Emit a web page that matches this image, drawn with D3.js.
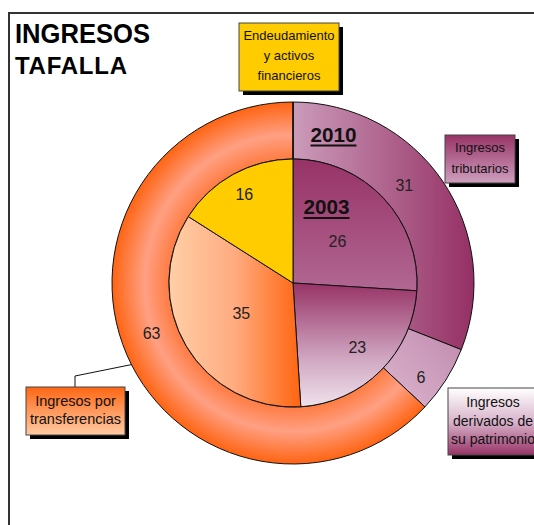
<!DOCTYPE html>
<html>
<head>
<meta charset="utf-8">
<script src="https://cdn.jsdelivr.net/npm/d3@7"></script>
<style>
  body { margin: 0; background: #fff; }
  text { font-family: "Liberation Sans", Arial, sans-serif; }
</style>
</head>
<body>
<div id="chart"></div>
<script>
// data
const categories = ["Ingresos tributarios", "Ingresos derivados de su patrimonio", "Ingresos por transferencias", "Endeudamiento y activos financieros"];
const values2003 = [26, 23, 35, 16];
const values2010 = [31, 6, 63, 0];
const years = ["2003", "2010"];
const boxLines = [["Ingresos", "tributarios"], ["Ingresos", "derivados de", "su patrimonio"], ["Ingresos por", "transferencias"], ["Endeudamiento", "y activos", "financieros"]];

const W = 534, H = 525;
const cx = 293, cy = 283, rIn = 124, rOut = 181;

const svg = d3.select("#chart").append("svg")
  .attr("width", W)
  .attr("height", H);

svg.append("rect").attr("width", W).attr("height", H).attr("fill", "#fff");

// gradients
const defs = svg.append("defs");
function linGrad(id, x1, y1, x2, y2, stops) {
  const g = defs.append("linearGradient").attr("id", id)
    .attr("x1", x1).attr("y1", y1).attr("x2", x2).attr("y2", y2);
  stops.forEach(s => g.append("stop").attr("offset", s[0]).attr("stop-color", s[1]));
}
linGrad("gTribIn", 0, 0, 0, 1, [[0, "#973366"], [1, "#b16792"]]);
linGrad("gTribOut", 0, 0, 1, 0, [[0, "#cb9bba"], [1, "#953064"]]);
linGrad("gPatIn", 0, 0, 0, 1, [[0, "#973366"], [0.6, "#cfa5c0"], [1, "#efe2ec"]]);
linGrad("gPatOut", 1, 0, 0, 1, [[0, "#c08aae"], [1, "#dcb6ce"]]);
linGrad("gTransIn", 0, 0, 1, 0, [[0, "#ffcfa6"], [0.5, "#ffab80"], [1, "#ff6510"]]);
linGrad("gBoxTrib", 0, 0, 0, 1, [[0, "#973366"], [1, "#cf9fbe"]]);
linGrad("gBoxPat", 0, 0, 0, 1, [[0, "#ffffff"], [0.5, "#d9b5cc"], [1, "#973366"]]);
linGrad("gBoxTrans", 0, 0, 0, 1, [[0, "#ff6614"], [1, "#ffcba3"]]);
const rg = defs.append("radialGradient").attr("id", "gTransOut")
  .attr("gradientUnits", "userSpaceOnUse").attr("cx", 0).attr("cy", 0).attr("r", rOut);
[[0.685, "#ff7c42"], [0.82, "#ffa083"], [1, "#ff6412"]].forEach(s =>
  rg.append("stop").attr("offset", s[0]).attr("stop-color", s[1]));

const fillsIn = ["url(#gTribIn)", "url(#gPatIn)", "url(#gTransIn)", "#ffcc00"];
const fillsOut = ["url(#gTribOut)", "url(#gPatOut)", "url(#gTransOut)", "#ffcc00"];

// frame
svg.append("path")
  .attr("d", `M9,${H} V13 H${W}`)
  .attr("fill", "none").attr("stroke", "#333").attr("stroke-width", 2);

// titles
svg.append("text").attr("x", 15).attr("y", 42.5)
  .attr("font-size", 27).attr("font-weight", "bold")
  .attr("textLength", 135).attr("lengthAdjust", "spacingAndGlyphs")
  .text("INGRESOS");
svg.append("text").attr("x", 15).attr("y", 74)
  .attr("font-size", 24).attr("font-weight", "bold")
  .attr("textLength", 112).attr("lengthAdjust", "spacing")
  .text("TAFALLA");

// pies
const pie = d3.pie().sort(null).startAngle(0).endAngle(2 * Math.PI);
const arcIn = d3.arc().innerRadius(0).outerRadius(rIn);
const arcOut = d3.arc().innerRadius(rIn).outerRadius(rOut);

const g = svg.append("g").attr("transform", `translate(${cx},${cy})`);

const outerArcs = pie(values2010);
const innerArcs = pie(values2003);

g.selectAll(".outer")
  .data(outerArcs)
  .enter().append("path")
  .attr("class", "outer")
  .attr("d", arcOut)
  .attr("fill", (d, i) => fillsOut[i])
  .attr("stroke", "#111")
  .attr("stroke-width", 1);

g.selectAll(".inner")
  .data(innerArcs)
  .enter().append("path")
  .attr("class", "inner")
  .attr("d", arcIn)
  .attr("fill", (d, i) => fillsIn[i])
  .attr("stroke", "#111")
  .attr("stroke-width", 1);

// value labels (radius and small angle tweak per slice, like Excel placement)
const labRIn = [61, 91, 60, 101];
const labROut = [148, 159, 150, 150];
const labTweakOut = [-7, 4, 4, 0];
function polar(r, a) { return [r * Math.sin(a), -r * Math.cos(a)]; }

g.selectAll(".labIn")
  .data(innerArcs.filter(d => d.value > 0))
  .enter().append("text")
  .attr("class", "labIn")
  .attr("transform", (d, i) => {
    const p = polar(labRIn[d.index], (d.startAngle + d.endAngle) / 2);
    return `translate(${p[0]},${p[1]})`;
  })
  .attr("text-anchor", "middle").attr("dy", "0.36em")
  .attr("font-size", 16).attr("fill", "#222")
  .text(d => d.value);

g.selectAll(".labOut")
  .data(outerArcs.filter(d => d.value > 0))
  .enter().append("text")
  .attr("class", "labOut")
  .attr("transform", d => {
    const a = (d.startAngle + d.endAngle) / 2 + labTweakOut[d.index] * Math.PI / 180;
    const p = polar(labROut[d.index], a);
    return `translate(${p[0]},${p[1]})`;
  })
  .attr("text-anchor", "middle").attr("dy", "0.36em")
  .attr("font-size", 16).attr("fill", "#222")
  .text(d => d.value);

// year labels, underlined
const yearPos = [[33.5, -69], [40.5, -141.5]];
years.forEach((y, i) => {
  g.append("text")
    .attr("x", yearPos[i][0]).attr("y", yearPos[i][1])
    .attr("text-anchor", "middle")
    .attr("font-size", 20).attr("font-weight", "bold").attr("fill", "#111")
    .attr("textLength", 46).attr("lengthAdjust", "spacingAndGlyphs")
    .text(y);
  g.append("line")
    .attr("x1", yearPos[i][0] - 23).attr("x2", yearPos[i][0] + 23)
    .attr("y1", yearPos[i][1] + 4).attr("y2", yearPos[i][1] + 4)
    .attr("stroke", "#111").attr("stroke-width", 2);
});

// leader line for transferencias
const leadAngle = 246.6 * Math.PI / 180;
const lp = polar(rOut, leadAngle - 3.4 * Math.PI / 180);
svg.append("polyline")
  .attr("points", `75,387 75,376 ${cx + lp[0]},${cy + lp[1]}`)
  .attr("fill", "none").attr("stroke", "#111").attr("stroke-width", 1);

// category boxes
const boxes = [
  { x: 445, y: 135, w: 70, h: 48, fill: "url(#gBoxTrib)", lines: boxLines[0], tx: 480, ty: 152, lh: 21, fs: 13 },
  { x: 448, y: 388, w: 95, h: 67, fill: "url(#gBoxPat)", lines: boxLines[1], tx: 493, ty: 407, lh: 18.5, fs: 14 },
  { x: 26, y: 387, w: 99, h: 48, fill: "url(#gBoxTrans)", lines: boxLines[2], tx: 75.5, ty: 406, lh: 17.5, fs: 14.5 },
  { x: 239, y: 23, w: 100, h: 68, fill: "#ffcc00", lines: boxLines[3], tx: 289, ty: 40, lh: 20, fs: 13 }
];

boxes.forEach(b => {
  svg.append("rect")
    .attr("x", b.x + 4).attr("y", b.y + 4).attr("width", b.w).attr("height", b.h)
    .attr("fill", "#000");
  svg.append("rect")
    .attr("x", b.x).attr("y", b.y).attr("width", b.w).attr("height", b.h)
    .attr("fill", b.fill).attr("stroke", "#444").attr("stroke-width", 1);
  b.lines.forEach((l, i) => {
    svg.append("text")
      .attr("x", b.tx).attr("y", b.ty + i * b.lh)
      .attr("text-anchor", "middle")
      .attr("font-size", b.fs).attr("fill", "#111")
      .text(l);
  });
});
</script>
</body>
</html>
